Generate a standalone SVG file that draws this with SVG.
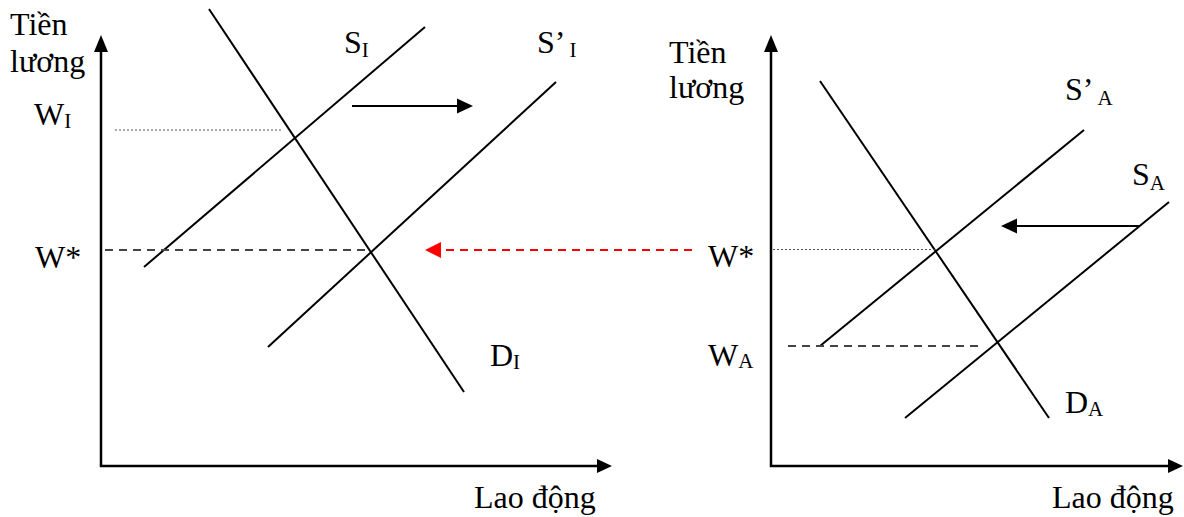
<svg xmlns="http://www.w3.org/2000/svg" width="1184" height="517" viewBox="0 0 1184 517">
<defs>
<style>
text{font-family:"Liberation Serif","Times New Roman",serif;font-size:32px;fill:#000}
.sub{font-size:21px}
.ax{stroke:#000;stroke-width:2.5;fill:none}
.cv{stroke:#000;stroke-width:2;fill:none}
.dash{stroke:#444;stroke-width:2;stroke-dasharray:8,6;fill:none}
.dot{stroke:#555;stroke-width:1;stroke-dasharray:2,2;fill:none}
.red{stroke:#ff0000;stroke-width:2;stroke-dasharray:8,6;fill:none}
</style>
</defs>
<rect width="1184" height="517" fill="#fff"/>
<g id="left-chart">
<g id="left-axes">
<polyline class="ax" points="101,50 101,466 598,466"/>
<polygon points="101,35 94,52 108,52" fill="#000"/>
<polygon points="612,466 597,459 597,473" fill="#000"/>
<text x="10" y="35">Tiền</text>
<text x="10" y="72">lương</text>
<text x="474" y="508">Lao động</text>
</g>
<g id="left-labels">
<text x="34" y="125">W<tspan class="sub" dy="3">I</tspan></text>
<text x="35" y="268">W*</text>
</g>
<g id="S_I"><line class="cv" x1="144" y1="267" x2="425" y2="27"/><text x="344" y="53">S<tspan class="sub" dy="4">I</tspan></text></g>
<g id="S_I_prime"><line class="cv" x1="268" y1="347" x2="556" y2="82"/><text x="537" y="53">S’<tspan class="sub" dy="4" dx="4">I</tspan></text></g>
<g id="D_I"><line class="cv" x1="209" y1="9" x2="464" y2="392"/><text x="490" y="366">D<tspan class="sub" dy="3">I</tspan></text></g>
</g>
<g id="right-chart">
<g id="right-axes">
<polyline class="ax" points="771,50 771,466 1168,466"/>
<polygon points="771,35 764,52 778,52" fill="#000"/>
<polygon points="1183,466 1168,459 1168,473" fill="#000"/>
<text x="669" y="63">Tiền</text>
<text x="669" y="98">lương</text>
<text x="1052" y="508">Lao động</text>
</g>
<g id="right-labels">
<text x="708" y="267">W*</text>
<text x="708" y="366">W<tspan class="sub" dy="2">A</tspan></text>
</g>
<g id="S_A_prime"><line class="cv" x1="820" y1="346" x2="1084" y2="130"/><text x="1065" y="100">S’<tspan class="sub" dy="5" dx="4">A</tspan></text></g>
<g id="S_A"><line class="cv" x1="905" y1="418" x2="1169" y2="202"/><text x="1132" y="185">S<tspan class="sub" dy="5">A</tspan></text></g>
<g id="D_A"><line class="cv" x1="820" y1="81" x2="1049" y2="418"/><text x="1065" y="413">D<tspan class="sub" dy="3">A</tspan></text></g>
</g>
<g id="connectors">
<line class="dot" x1="115" y1="130" x2="282" y2="130"/>
<line class="dash" x1="105" y1="250" x2="368" y2="250"/>
<line class="dot" x1="773" y1="249.5" x2="937" y2="249.5"/>
<line class="dash" x1="788" y1="346" x2="978" y2="346"/>
<line class="cv" x1="352" y1="106" x2="459" y2="106"/>
<polygon points="473,106 457,98.5 457,113.5" fill="#000"/>
<line class="cv" x1="1140" y1="226" x2="1015" y2="226"/>
<polygon points="1001,226 1017,218.5 1017,233.5" fill="#000"/>
<line class="red" x1="692" y1="250" x2="440" y2="250"/>
<polygon points="425,250 441,242 441,258" fill="#ff0000"/>
</g>
</svg>
